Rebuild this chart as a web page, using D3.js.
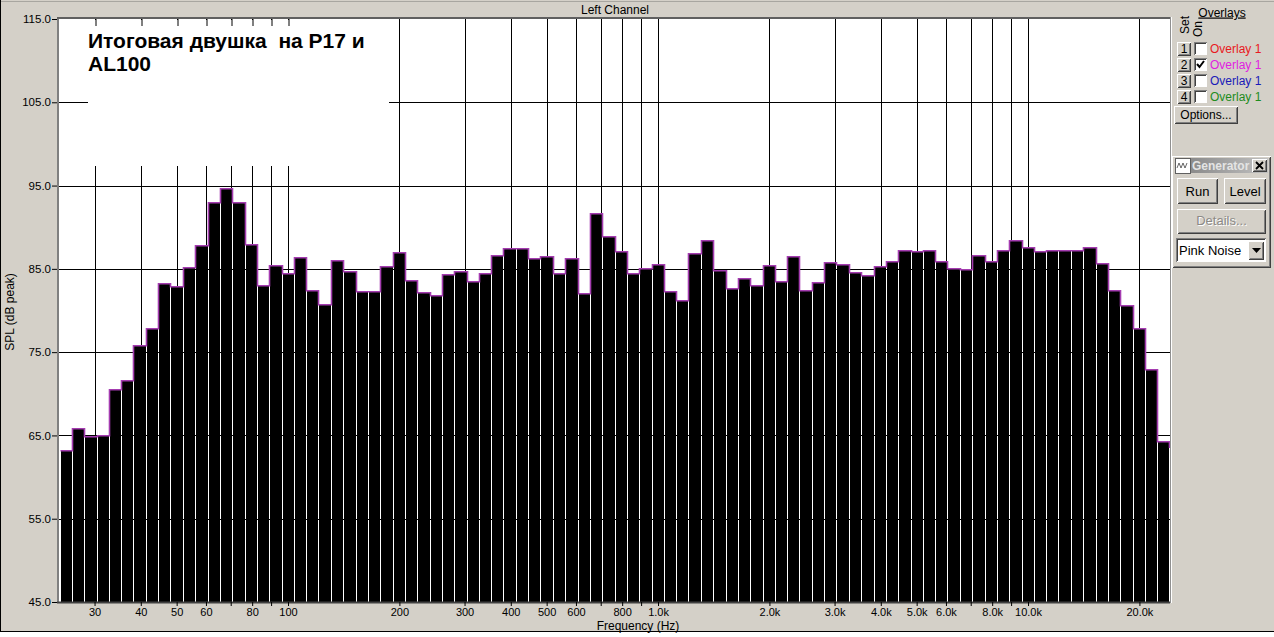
<!DOCTYPE html>
<html><head><meta charset="utf-8">
<script src="https://cdn.jsdelivr.net/npm/d3@7"></script>
<style>
html,body{margin:0;padding:0;background:#fff;overflow:hidden;}
svg{display:block;font-family:"Liberation Sans",Arial,sans-serif;}
</style></head><body>
<svg id="c" width="1274" height="637"></svg>
<script>
// ---------- data ----------
const bandFreqs = [
  25.1, 27.1, 29.2, 31.6, 34.1, 36.8, 39.7, 42.9, 46.3, 50.0, 54.0, 58.3, 63.0, 68.0, 73.4,
  79.3, 85.6, 92.4, 99.8, 107.7, 116.3, 125.6, 135.6, 146.5, 158.1, 170.8, 184.4, 199.1, 215.0, 232.1,
  251, 271, 292, 316, 341, 368, 397, 429, 463, 500, 540, 583, 630, 680, 734,
  793, 856, 924, 998, 1077, 1163, 1256, 1356, 1465, 1581, 1708, 1844, 1991, 2150, 2321,
  2506, 2706, 2922, 3155, 3407, 3679, 3972, 4289, 4631, 5001, 5400, 5830, 6295, 6798, 7340,
  7925, 8558, 9241, 9978, 10770, 11630, 12560, 13560, 14650, 15810, 17080, 18440, 19910, 21500, 23210
];
const splValues = [
  63.1, 65.8, 64.8, 64.9, 70.5, 71.5, 75.7, 77.8, 83.2, 82.8, 85.1, 87.7, 92.9, 94.6, 92.9,
  87.85, 82.9, 85.3, 84.4, 86.3, 82.3, 80.7, 86.0, 84.6, 82.2, 82.2, 85.2, 86.9, 83.5, 82.1,
  81.8, 84.3, 84.6, 83.4, 84.4, 86.5, 87.4, 87.4, 86.2, 86.4, 84.4, 86.2, 82.0, 91.6, 88.8,
  87.0, 84.4, 85.0, 85.5, 82.2, 81.2, 86.8, 88.3, 84.7, 82.6, 83.8, 83.0, 85.3, 83.4, 86.4,
  82.4, 83.3, 85.7, 85.5, 84.5, 84.1, 85.2, 85.8, 87.2, 87.0, 87.2, 85.8, 85.0, 84.9, 86.5,
  85.8, 87.2, 88.3, 87.5, 87.0, 87.1, 87.2, 87.1, 87.5, 85.6, 82.4, 80.6, 77.8, 72.8, 64.2
];
const gridFreqs = [30,40,50,60,70,80,90,100,200,300,400,500,600,700,800,900,
                   1000,2000,3000,4000,5000,6000,7000,8000,9000,10000,20000];
const labeledFreqs = [30,40,50,60,80,100,200,300,400,500,600,800,
                      1000,2000,3000,4000,5000,6000,8000,10000,20000];
const topTickFreqs = [30,40,50,60,70,80,90,100];
const yTicks = [45,55,65,75,85,95,105,115];
const yGrid = [55,65,75,85,95,105];
const titleLines = ["Итоговая двушка  на P17 и", "AL100"];
const chartTitle = "Left Channel";
const xTitle = "Frequency (Hz)";
const yTitle = "SPL (dB peak)";
const overlayLabels = ["Overlay 1","Overlay 1","Overlay 1","Overlay 1"];
const overlayChecked = [false,true,false,false];
const overlayColors = ["#e8191e","#e020e0","#1a1ab8","#1e8c1e"];

// ---------- setup ----------
const svg = d3.select("#c");
const W = 1274, H = 637;
const face = "#d4d0c8";
const P = {l:59, r:1170, t:19, b:602};

const x = d3.scaleLog().domain([24.12, 24118]).range([59.5, 1169.5]);
const y = d3.scaleLinear().domain([45,115]).range([602,19]);

// window background
svg.append("rect").attr("x",0).attr("y",0).attr("width",W).attr("height",H).attr("fill","#fff");
svg.append("rect").attr("x",0).attr("y",0).attr("width",W).attr("height",632).attr("fill",face);
svg.append("line").attr("x1",0).attr("x2",W).attr("y1",1.5).attr("y2",1.5).attr("stroke","#a8a6a0");
svg.append("line").attr("x1",0).attr("x2",W).attr("y1",631.5).attr("y2",631.5).attr("stroke","#000");
svg.append("line").attr("x1",0.5).attr("x2",0.5).attr("y1",0).attr("y2",632).attr("stroke","#000");

// header title
svg.append("text").attr("x",615).attr("y",14).attr("text-anchor","middle")
  .attr("font-size",12).attr("fill","#000").text(chartTitle);

// plot background
svg.append("rect").attr("x",P.l).attr("y",P.t).attr("width",P.r-P.l).attr("height",P.b-P.t).attr("fill","#fff");

// gridlines
const grid = svg.append("g").attr("shape-rendering","crispEdges");
grid.selectAll("line.v").data(gridFreqs).join("line")
  .attr("x1",d=>Math.round(x(d))+0.5).attr("x2",d=>Math.round(x(d))+0.5)
  .attr("y1",P.t).attr("y2",P.b).attr("stroke","#000");
grid.selectAll("line.h").data(yGrid).join("line")
  .attr("x1",P.l).attr("x2",P.r).attr("y1",d=>Math.round(y(d))+0.5).attr("y2",d=>Math.round(y(d))+0.5)
  .attr("stroke","#000");

// bars
const centers = bandFreqs.map(f=>x(f));
const edges = [];
for (let i=0;i<=centers.length;i++){
  if (i===0) edges.push(centers[0] - (centers[1]-centers[0])/2);
  else if (i===centers.length) edges.push(centers[i-1] + (centers[i-1]-centers[i-2])/2);
  else edges.push((centers[i-1]+centers[i])/2);
}
const bars = bandFreqs.map((f,i)=>({f, v:splValues[i], x0:Math.round(edges[i]), x1:Math.round(edges[i+1])}));
svg.append("g").attr("shape-rendering","crispEdges").selectAll("rect").data(bars).join("rect")
  .attr("x",d=>d.x0+1).attr("width",d=>d.x1-d.x0-1)
  .attr("y",d=>Math.round(y(d.v))).attr("height",d=>P.b-Math.round(y(d.v)))
  .attr("fill","#000");

// overlay step outline
let p = "";
bars.forEach((d,i)=>{
  const yy = Math.round(y(d.v)) - 0.25;
  if (i===0) p += `M${d.x0+0.5},${yy}`; else p += `V${yy}`;
  p += `H${d.x1+0.5}`;
});
p += `V${Math.round(y(bars[bars.length-1].v))+6}`;
svg.append("path").attr("d",p).attr("fill","none").attr("stroke","#a43cb0").attr("stroke-width",1.6);

// title box (covers grid)
svg.append("rect").attr("x",88).attr("y",P.t+1).attr("width",301).attr("height",146).attr("fill","#fff");
svg.append("g").selectAll("text").data(titleLines).join("text")
  .attr("x",88).attr("y",(d,i)=>48+i*23).attr("font-size",21).attr("font-weight","bold")
  .style("white-space","pre").attr("fill","#000").text(d=>d);

// top ticks
const topAxis = d3.axisBottom(x).tickValues(topTickFreqs).tickSizeInner(7).tickSizeOuter(0).tickFormat("");
const gt = svg.append("g").attr("transform",`translate(0,${P.t})`).call(topAxis);
gt.select(".domain").remove();
gt.selectAll(".tick line").attr("stroke","#000").attr("transform",d=>`translate(${Math.round(x(d))+0.5-x(d)},0)`);

// plot borders
svg.append("rect").attr("x",57).attr("y",17).attr("width",2).attr("height",P.b-17).attr("fill","#808080");
svg.append("rect").attr("x",57).attr("y",17).attr("width",P.r-57).attr("height",2).attr("fill","#606060");
svg.append("rect").attr("x",P.r).attr("y",17).attr("width",1).attr("height",P.b-17+1).attr("fill","#909090");
svg.append("rect").attr("x",P.r+1).attr("y",17).attr("width",1).attr("height",P.b-17+1).attr("fill","#ffffff");

// bottom axis
const fmt = d => labeledFreqs.includes(d) ? (d>=1000 ? (d/1000).toFixed(1)+"k" : String(d)) : "";
const xAxis = d3.axisBottom(x).tickValues(gridFreqs).tickSizeInner(4).tickSizeOuter(0).tickPadding(2).tickFormat(fmt);
const gx = svg.append("g").attr("transform",`translate(0,${P.b})`).call(xAxis);
gx.select(".domain").attr("stroke","#404040").attr("stroke-width",2).attr("d",`M${P.l-2},0.5H${P.r}`);
gx.selectAll(".tick line").attr("stroke","#000");
gx.selectAll(".tick text").attr("font-size",11).attr("fill","#000");

// left axis
const yAxis = d3.axisLeft(y).tickValues(yTicks).tickSizeInner(5).tickSizeOuter(0).tickPadding(1).tickFormat(d3.format(".1f"));
const gy = svg.append("g").attr("transform",`translate(${57},0)`).call(yAxis);
gy.select(".domain").remove();
gy.selectAll(".tick line").attr("stroke","#000");
gy.selectAll(".tick text").attr("font-size",11.5).attr("fill","#000");

// axis titles
svg.append("text").attr("x",638).attr("y",630).attr("text-anchor","middle").attr("font-size",12).text(xTitle);
svg.append("text").attr("transform","translate(14,312) rotate(-90)").attr("text-anchor","middle").attr("font-size",12).text(yTitle);

// ---------- right panel ----------
function bevel(g, x0, y0, w, h, sunken){
  const tl = sunken ? "#808080" : "#ffffff";
  const br = sunken ? "#ffffff" : "#404040";
  const br2 = sunken ? "#d4d0c8" : "#808080";
  g.append("rect").attr("x",x0).attr("y",y0).attr("width",w).attr("height",h).attr("fill",face);
  g.append("path").attr("d",`M${x0+0.5},${y0+h-0.5}V${y0+0.5}H${x0+w-0.5}`).attr("stroke",tl).attr("fill","none");
  g.append("path").attr("d",`M${x0+0.5},${y0+h-0.5}H${x0+w-0.5}V${y0+0.5}`).attr("stroke",br).attr("fill","none");
  g.append("path").attr("d",`M${x0+1.5},${y0+h-1.5}H${x0+w-1.5}V${y0+1.5}`).attr("stroke",br2).attr("fill","none");
}
function button(g, x0, y0, w, h, label, fs, color){
  bevel(g,x0,y0,w,h,false);
  g.append("text").attr("x",x0+w/2).attr("y",y0+h/2+fs*0.36).attr("text-anchor","middle")
    .attr("font-size",fs).attr("fill",color||"#000").text(label);
}
const rp = svg.append("g").attr("shape-rendering","crispEdges");
const rpt = svg.append("g");
rpt.append("text").attr("x",1222).attr("y",16.5).attr("text-anchor","middle").attr("font-size",12)
  .attr("text-decoration","underline").text("Overlays");
rpt.append("text").attr("transform","translate(1189,25) rotate(-90)").attr("text-anchor","middle").attr("font-size",12).text("Set");
rpt.append("text").attr("transform","translate(1202,29) rotate(-90)").attr("text-anchor","middle").attr("font-size",12).text("On");
overlayLabels.forEach((lab,i)=>{
  const cy = 42 + i*16;
  button(rp, 1177, cy, 14, 14, String(i+1), 12);
  rp.append("rect").attr("x",1194).attr("y",cy).attr("width",13).attr("height",13).attr("fill","#fff");
  rp.append("path").attr("d",`M${1194.5},${cy+12.5}V${cy+0.5}H${1206.5}`).attr("stroke","#808080").attr("fill","none");
  rp.append("path").attr("d",`M${1195.5},${cy+11.5}V${cy+1.5}H${1205.5}`).attr("stroke","#404040").attr("fill","none");
  rp.append("path").attr("d",`M${1194.5},${cy+12.5}H${1206.5}V${cy+0.5}`).attr("stroke","#ffffff").attr("fill","none");
  if (overlayChecked[i]) {
    svg.append("path").attr("d",`M${1197},${cy+6} L${1199.5},${cy+9} L${1204},${cy+3}`)
      .attr("stroke","#000").attr("stroke-width",2).attr("fill","none");
  }
  rpt.append("text").attr("x",1210).attr("y",cy+11).attr("font-size",12).attr("fill",overlayColors[i]).text(lab);
});
button(rp, 1174, 106, 64, 18, "Options...", 12);

// generator panel
bevel(rp, 1172, 156, 99, 112, false);
const grad = svg.append("defs").append("linearGradient").attr("id","tb").attr("x1","0").attr("x2","1");
grad.append("stop").attr("offset","0").attr("stop-color","#808080");
grad.append("stop").attr("offset","1").attr("stop-color","#c0c0c0");
rp.append("rect").attr("x",1175).attr("y",158).attr("width",93).attr("height",15).attr("fill","url(#tb)");
rp.append("rect").attr("x",1175).attr("y",158).attr("width",15).attr("height",15).attr("fill","#fff").attr("stroke","#606060");
svg.append("path").attr("d","M1177,168 L1179,163 L1181,168 L1183,163 L1185,168 L1187,163")
  .attr("stroke","#404040").attr("fill","none").attr("stroke-width",0.8);
rpt.append("text").attr("x",1192).attr("y",170).attr("font-size",12).attr("font-weight","bold").attr("fill","#e4e4e4").text("Generator");
button(rp, 1252, 159, 15, 13, "", 12);
svg.append("path").attr("d","M1256,162 L1263,169 M1263,162 L1256,169").attr("stroke","#000").attr("stroke-width",1.8);
button(rp, 1177, 178, 41, 26, "Run", 13);
button(rp, 1224, 178, 42, 26, "Level", 13);
bevel(rp, 1177, 209, 89, 25, false);
rpt.append("text").attr("x",1222.5).attr("y",226).attr("text-anchor","middle").attr("font-size",13).attr("fill","#fff").text("Details...");
rpt.append("text").attr("x",1221.5).attr("y",225).attr("text-anchor","middle").attr("font-size",13).attr("fill","#8c8a86").text("Details...");
// dropdown
rp.append("rect").attr("x",1176).attr("y",238).attr("width",90).attr("height",24).attr("fill","#fff");
rp.append("path").attr("d","M1176.5,261.5V238.5H1265.5").attr("stroke","#808080").attr("fill","none");
rp.append("path").attr("d","M1177.5,260.5V239.5H1264.5").attr("stroke","#404040").attr("fill","none");
rp.append("path").attr("d","M1176.5,261.5H1265.5V238.5").attr("stroke","#ffffff").attr("fill","none");
rpt.append("text").attr("x",1179).attr("y",255).attr("font-size",13).text("Pink Noise");
button(rp, 1248, 241, 16, 19, "", 12);
svg.append("path").attr("d","M1252,248 H1261 L1256.5,253 Z").attr("fill","#000");
</script>
</body></html>
